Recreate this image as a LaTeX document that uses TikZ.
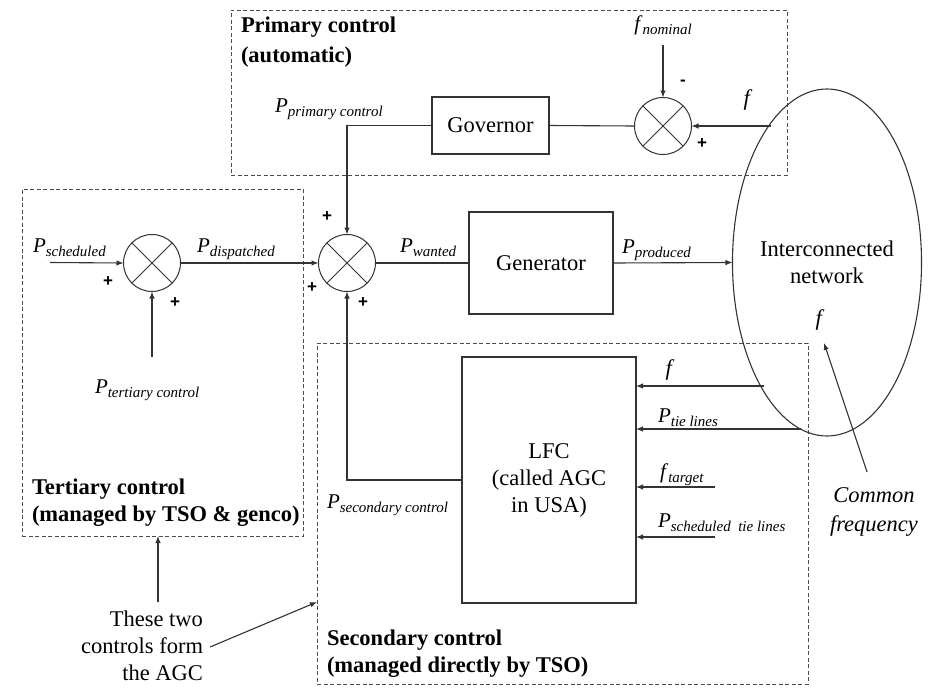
\documentclass[tikz,border=0pt]{standalone}
\usepackage{fontspec}
\setmainfont{Liberation Serif}
\newfontfamily\plusfont{Liberation Sans}
\usetikzlibrary{arrows.meta,shapes.geometric}
\newcommand\Ps[2]{{\fontsize{21}{21}\selectfont\textit{#1}}\raisebox{-4pt}{\fontsize{15}{15}\selectfont\textit{#2}}}
\begin{document}
\begin{tikzpicture}[x=1pt,y=-1pt,
  every node/.style={font=\fontsize{22.5}{27}\selectfont, inner sep=0pt, outer sep=0pt},
  ln/.style={line width=1.1pt, draw=black!80},
  arr/.style={ln, -{Latex[length=7pt,width=5.5pt]}},
  dbox/.style={draw=black!70, line width=0.9pt, dash pattern=on 4pt off 2.5pt, rectangle},
  blk/.style={ln, rectangle},
  sumj/.style={circle, draw=black!80, line width=1pt, minimum size=57pt},
  xline/.style={line width=0.8pt, draw=black!80},
  pl/.style={font=\plusfont\bfseries\fontsize{17}{17}\selectfont},
  ttl/.style={font=\bfseries\fontsize{22.5}{27}\selectfont, align=left, anchor=north west},
  lab/.style={anchor=base west}]
\useasboundingbox (0,0) rectangle (935,688);

% dashed control areas
\node[dbox, minimum width=556pt, minimum height=165pt] (prim) at (509,92.5) {};
\node[dbox, minimum width=281pt, minimum height=347pt] (tert) at (162.5,362.5) {};
\node[dbox, minimum width=491pt, minimum height=341pt] (sec) at (562.5,513.5) {};

% titles
\node[ttl, font=\bfseries\fontsize{22.5}{30}\selectfont] (tprim) at (241,17) {Primary control\\(automatic)};
\node[ttl] (ttert) at (32,479) {Tertiary control\\(managed by TSO \& genco)};
\node[ttl] (tsec) at (327,630) {Secondary control\\(managed directly by TSO)};

% blocks
\node[blk, minimum width=117pt, minimum height=57pt] (gov) at (490.5,125.5) {Governor};
\node[blk, minimum width=144pt, minimum height=102pt] (gen) at (541,263) {Generator};
\node[blk, minimum width=174pt, minimum height=246pt, align=center] (lfc) at (549,480) {LFC\\(called AGC\\in USA)};
\node[ellipse, ln, minimum width=180pt, minimum height=347pt, align=center] (net) at (827,262.5) {Interconnected\\network};
\node (fnet) at (820,320) {\textit{f}};

% summing junctions
\node[sumj] (sP) at (663,126) {};
\node[sumj] (sT) at (152,263) {};
\node[sumj] (sM) at (347,263) {};
\foreach \s in {sP,sT,sM}{
  \draw[xline] (\s.north east) -- (\s.south west) (\s.north west) -- (\s.south east);
}

% primary loop
\node (fnom) at (663,25) {\Ps{f}{nominal}};
\draw[arr] (663,45) -- (sP.north);
\coordinate (fP) at (771,126);
\draw[arr] (fP) -- (sP.east);
\node (lfP) at (748,100) {\textit{f}};
\node[pl] (mP) at (683,83) {-};
\node[pl] (pP) at (702,144) {+};
\draw[ln] (sP.west) -- (gov.east);
\draw[arr] (gov.west) -| (sM.north);
\node[lab] (lprim) at (275,112) {\Ps{P}{primary control}};

% tertiary
\coordinate (pS) at (50,262.5);
\draw[arr] (pS) -- (sT.west);
\node[lab] (lsch) at (33,252) {\Ps{P}{scheduled}};
\node[pl] (p1) at (108,282) {+};
\node[pl] (p2) at (175,303) {+};
\coordinate (pT) at (152,357);
\draw[arr] (pT) -- (sT.south);
\node[lab] (lter) at (95,393) {\Ps{P}{tertiary control}};
\draw[arr] (sT.east) -- (sM.west);
\node[lab] (ldis) at (197,252) {\Ps{P}{dispatched}};

% main path
\node[pl] (p3) at (327,217) {+};
\node[pl] (p4) at (312,288) {+};
\node[pl] (p5) at (363,303) {+};
\draw[ln] (sM.east) -- (gen.west);
\node[lab] (lwan) at (400,252) {\Ps{P}{wanted}};
\draw[arr] (gen.east) -- (net.west);
\node[lab] (lpro) at (622,253) {\Ps{P}{produced}};

% secondary
\draw[arr] (lfc.west) -| (sM.south);
\node[lab] (lsec) at (327,508) {\Ps{P}{secondary control}};
\coordinate (fS) at (764,386);
\draw[arr] (fS) -- (fS -| lfc.east);
\node (lfS) at (670,370) {\textit{f}};
\coordinate (tS) at (801,429);
\draw[arr] (tS) -- (tS -| lfc.east);
\node[lab] (ltie) at (658,422) {\Ps{P}{tie lines}};
\coordinate (gS) at (715,487);
\draw[arr] (gS) -- (gS -| lfc.east);
\node[lab] (ltar) at (660,478) {\Ps{f}{target}};
\coordinate (hS) at (715,537);
\draw[arr] (hS) -- (hS -| lfc.east);
\node[lab] (lsct) at (658,527) {\Ps{P}{scheduled\ \ tie lines}};

% common frequency
\node[align=center, font=\itshape\fontsize{22.5}{29}\selectfont] (cf) at (874,512) {Common\\frequency};
\coordinate (cfs) at (867,472);
\coordinate (cfe) at (824,343);
\draw[arr] (cfs) -- (cfe);

% AGC note
\node[align=right, anchor=north east, font=\fontsize{22.5}{27}\selectfont] (agc) at (203,611) {These two\\controls form\\the AGC};
\coordinate (a1) at (158,602);
\draw[arr] (a1) -- (a1 |- tert.south);
\coordinate (a2) at (210,647);
\coordinate (a3) at (317,602);
\draw[arr] (a2) -- (a3);
\end{tikzpicture}
\end{document}
